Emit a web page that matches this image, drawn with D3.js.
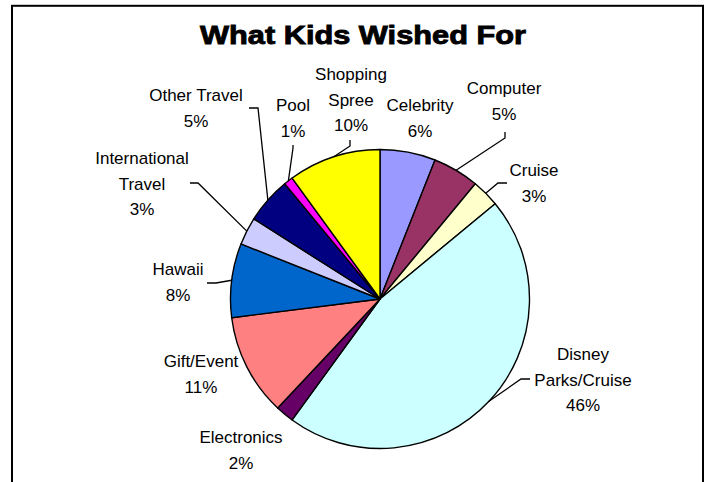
<html>
<head>
<script src="https://d3js.org/d3.v7.min.js"></script>
<style>
  body { margin: 0; background: #fff; }
  svg text { font-family: "Liberation Sans", Arial, sans-serif; }
</style>
</head>
<body>
<svg width="711" height="482"></svg>
<script>
// slices clockwise from 12 o'clock
var names = ["Celebrity", "Computer", "Cruise", "Disney Parks/Cruise", "Electronics",
             "Gift/Event", "Hawaii", "International Travel", "Other Travel", "Pool", "Shopping Spree"];
var values = [6, 5, 3, 46, 2, 11, 8, 3, 5, 1, 10];
var colors = ["#9999FF", "#993366", "#FFFFCC", "#CCFFFF", "#660066",
              "#FF8080", "#0066CC", "#CCCCFF", "#000080", "#FF00FF", "#FFFF00"];
// label lines as Excel wrapped them
var labelLines = [["Celebrity"], ["Computer"], ["Cruise"], ["Disney", "Parks/Cruise"], ["Electronics"],
                  ["Gift/Event"], ["Hawaii"], ["International", "Travel"], ["Other Travel"], ["Pool"], ["Shopping", "Spree"]];

// where each label sits (center x, first baseline) and the leader elbow, if any
var labelPos = [
  {x: 420, y: 111, leader: null},
  {x: 504, y: 94,  leader: [[505, 132], [505, 138]]},
  {x: 534, y: 176, leader: [[507, 183], [498, 183]]},
  {x: 583, y: 360, leader: [[530, 379], [521, 379]]},
  {x: 241, y: 443, leader: null},
  {x: 201, y: 367, leader: null},
  {x: 178, y: 275, leader: [[207, 283], [216, 283]]},
  {x: 142, y: 164, leader: [[190, 183], [198, 183]]},
  {x: 196, y: 101, leader: [[249, 108], [258, 108]]},
  {x: 293, y: 111, leader: [[293, 145], [293, 148]]},
  {x: 351, y: 80,  leader: [[350, 140], [350, 146]]}
];

var data = names.map(function(n, i) {
  return {name: n, value: values[i], color: colors[i], lines: labelLines[i], pos: labelPos[i]};
});

var svg = d3.select("svg");
var cx = 380, cy = 299, r = 149.5;
var lineH = 25.5;

// chart border
svg.append("rect")
  .attr("x", 12).attr("y", 5.8)
  .attr("width", 691).attr("height", 520)
  .attr("fill", "none")
  .attr("stroke", "#000")
  .attr("stroke-width", 2);

// title
svg.append("text")
  .attr("x", 363).attr("y", 44)
  .attr("text-anchor", "middle")
  .attr("font-size", 26.5)
  .attr("font-weight", "bold")
  .attr("stroke", "#000").attr("stroke-width", 0.9)
  .attr("textLength", 326).attr("lengthAdjust", "spacingAndGlyphs")
  .text("What Kids Wished For");

var pie = d3.pie().sort(null).value(d => d.value);
var arc = d3.arc().innerRadius(0).outerRadius(r);
var edge = d3.arc().innerRadius(r).outerRadius(r);
var arcs = pie(data);

var g = svg.append("g").attr("transform", "translate(" + cx + "," + cy + ")");

g.selectAll("path.slice")
  .data(arcs)
  .enter()
  .append("path")
  .attr("class", "slice")
  .attr("d", arc)
  .attr("fill", d => d.data.color)
  .attr("stroke", "#000")
  .attr("stroke-width", 1.4)
  .attr("stroke-linejoin", "round");

// leader lines
var line = d3.line();
arcs.forEach(function(d) {
  var p = d.data.pos;
  if (!p.leader) return;
  var c = edge.centroid(d);
  var pts = p.leader.concat([[cx + c[0], cy + c[1]]]);
  svg.append("path")
    .attr("d", line(pts))
    .attr("fill", "none")
    .attr("stroke", "#000")
    .attr("stroke-width", 1.3);
});

// labels
arcs.forEach(function(d) {
  var p = d.data.pos;
  var total = d3.sum(values);
  var pct = Math.round(d.data.value / total * 100) + "%";
  var lines = d.data.lines.concat([pct]);
  var t = svg.append("text")
    .attr("text-anchor", "middle")
    .attr("font-size", 17)
    .attr("fill", "#000");
  lines.forEach(function(s, k) {
    t.append("tspan")
      .attr("x", p.x)
      .attr("y", p.y + k * lineH)
      .text(s);
  });
});
</script>
</body>
</html>
